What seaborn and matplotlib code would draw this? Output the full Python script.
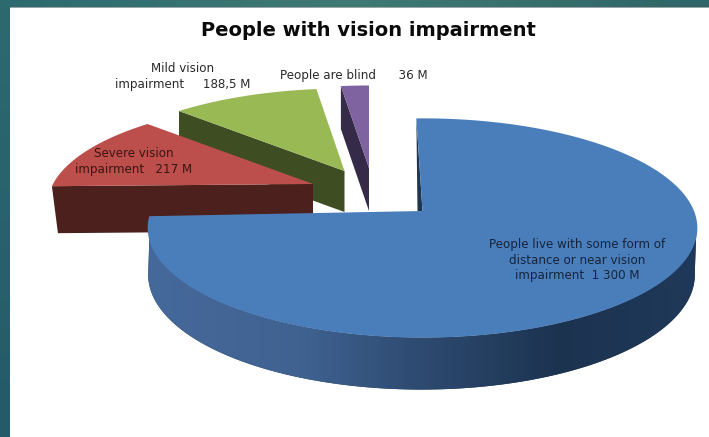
import numpy as np
import matplotlib
matplotlib.use("Agg")
import matplotlib.pyplot as plt
from matplotlib.colors import LinearSegmentedColormap
from matplotlib.patches import Polygon, Rectangle
import seaborn as sns

# Millions of people per category, clockwise from twelve o'clock
categories = ["Some form of impairment", "Severe", "Mild", "Blind"]
values = [1300, 217, 188.5, 36]
value_labels = ["1 300 M", "217 M", "188,5 M", "36 M"]
title = "People with vision impairment"

sns.set_theme(style="white")
plt.rcParams["font.family"] = ["DejaVu Sans"]

top_colors = sns.color_palette(["#4a7ebb", "#bc4f4c", "#98b954", "#7f62a0"])
wall_colors = sns.color_palette(["#1f3650", "#4c201c", "#3f4d23", "#352a48"])
blue_wall_cmap = LinearSegmentedColormap.from_list(
    "blue_wall",
    [(0.0, "#46699b"), (0.28, "#3f6291"), (0.5, "#2d4a70"), (0.75, "#1c3350"), (1.0, "#20395a")],
)

fig = plt.figure(figsize=(7.09, 4.37), dpi=100)
ax = fig.add_axes([0, 0, 1, 1])
ax.set_xlim(0, 709)
ax.set_ylim(437, 0)
ax.axis("off")

# Slide frame: teal band behind a white panel
band = np.linspace(0, 1, 256).reshape(-1, 1)
frame_cmap = LinearSegmentedColormap.from_list("frame", ["#2c6a70", "#255a68"])
ax.imshow(band, extent=(0, 10, 437, 0), cmap=frame_cmap, aspect="auto", zorder=0)
top_cmap = LinearSegmentedColormap.from_list("frame_top", ["#2c6a70", "#3f7a74", "#2f6468"])
ax.imshow(band.T, extent=(0, 709, 7, 0), cmap=top_cmap, aspect="auto", zorder=0)
ax.set_xlim(0, 709)
ax.set_ylim(437, 0)
ax.add_patch(Rectangle((10, 7), 699, 430, fc="white", ec="none", zorder=1))
ax.add_patch(Rectangle((10, 7), 699, 1.2, fc="#9aa6a6", ec="none", zorder=1.5))


def rim(theta_deg, apex, radius, persp, depth):
    """Project clockwise-from-north angles on a tilted disc to axes coordinates."""
    t = np.radians(np.asarray(theta_deg, dtype=float))
    east, north = np.sin(t), np.cos(t)
    scale = 1.0 / (1.0 + persp * north)
    return np.column_stack([apex[0] + radius * east * scale, apex[1] - depth * north * scale])


shares = np.asarray(values, dtype=float) / np.sum(values) * 360.0
edges = np.concatenate([[0.0], np.cumsum(shares)])

# Detached slices: (index, top apex, wall height at the apex, bottom radius)
detached = [(3, (369.0, 168.0), 43.0, 260.0), (2, (344.5, 171.0), 41.0, 260.0), (1, (313.0, 184.0), 47.0, 254.0)]
z = 2
for i, apex, wall_h, bottom_r in detached:
    start, end = edges[i], edges[i + 1]
    arc = np.linspace(start, end, 60)
    top_pts = rim(arc, apex, 260.0, 0.2, 99.0)
    bottom_apex = (apex[0], apex[1] + wall_h)
    # The wall shown is the straight edge on the anticlockwise side
    near = rim([start], apex, 260.0, 0.2, 99.0)[0]
    near_low = rim([start], bottom_apex, bottom_r, 0.2, 99.0)[0]
    ax.add_patch(Polygon([near, apex, bottom_apex, near_low], fc=wall_colors[i], ec="none", zorder=z))
    ax.add_patch(Polygon(np.vstack([[apex], top_pts]), fc=top_colors[i], ec="none", zorder=z + 1))
    z += 2

# Large slice: shaded outer wall, sliver of the inner wall, then the top face
rotation = -1.5
blue_apex = (422.5, 211.0)
R, P, D = 271.5, 0.155, 107.0
low_apex = (421.5, 257.0)
R_low, D_low = 270.0, 112.0

wall_t = np.linspace(edges[1] + rotation, 98.0, 300)
low_t = np.linspace(261.0, 98.0, 300)
top_rim = rim(wall_t, blue_apex, R - 0.8, P, D)
low_rim = rim(low_t, low_apex, R_low, P, D_low)
wall_patch = Polygon(np.vstack([top_rim, low_rim[::-1]]), fc=wall_colors[0], ec="none", zorder=10)
ax.add_patch(wall_patch)
wall_shade = ax.imshow(
    band.T, extent=(148, 697, 395, 205), cmap=blue_wall_cmap, aspect="auto", zorder=10.5, interpolation="bilinear"
)
wall_shade.set_clip_path(wall_patch)
ax.set_xlim(0, 709)
ax.set_ylim(437, 0)

arc = np.linspace(rotation, edges[1] + rotation, 300)
blue_pts = rim(arc, blue_apex, R, P, D)
ax.add_patch(Polygon([blue_pts[0], blue_apex, (blue_apex[0] - 5, blue_apex[1])], fc=wall_colors[0], ec="none", zorder=11))
ax.add_patch(Polygon(np.vstack([[blue_apex], blue_pts]), fc=top_colors[0], ec="none", zorder=12))

# Title and category labels
ax.text(368, 31, title, ha="center", va="center", fontsize=14.0, fontweight="bold", color="#0a0a0a", zorder=20)
label_style = dict(ha="center", va="center", fontsize=8.55, linespacing=1.22, zorder=20)
ax.text(183, 76.5, f"Mild vision\nimpairment     {value_labels[2]}", color="#2a2a2a", **label_style)
ax.text(353.5, 76, f"People are blind      {value_labels[3]}", color="#2a2a2a", **label_style)
ax.text(134, 161.5, f"Severe vision\nimpairment   {value_labels[1]}", color="#3a1512", **label_style)
ax.text(577, 260, f"People live with some form of\ndistance or near vision\nimpairment  {value_labels[0]}", color="#16243c", **label_style)

fig.savefig("out.png", dpi=100)
